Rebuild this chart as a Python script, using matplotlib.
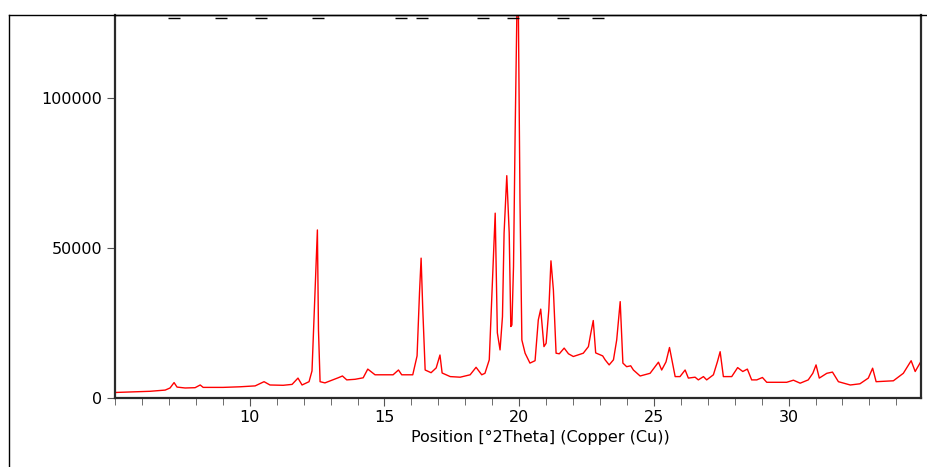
import matplotlib.pyplot as plt
import matplotlib.transforms as mtransforms
from matplotlib.lines import Line2D
from matplotlib.ticker import MultipleLocator

plt.rcParams['font.family'] = ['DejaVu Sans']

# XRD pattern
two_theta = [5.00, 6.30, 6.86, 7.04, 7.19, 7.30, 7.60, 7.97, 8.16, 8.27, 9.01, 9.64,
             10.20, 10.53, 10.75, 11.24, 11.57, 11.79, 11.94, 12.20, 12.31, 12.39,
             12.51, 12.55, 12.61, 12.79, 13.28, 13.44, 13.60, 13.91, 14.21, 14.38,
             14.65, 15.32, 15.52, 15.64, 16.05, 16.21, 16.30, 16.36, 16.42, 16.51,
             16.73, 16.92, 17.06, 17.14, 17.44, 17.81, 18.18, 18.40, 18.61, 18.73,
             18.89, 18.98, 19.11, 19.19, 19.29, 19.38, 19.44, 19.54, 19.63, 19.69,
             19.73, 19.79, 19.85, 19.95, 20.03, 20.10, 20.22, 20.40, 20.59, 20.71,
             20.80, 20.92, 21.00, 21.10, 21.18, 21.27, 21.37, 21.49, 21.67, 21.83,
             22.01, 22.38, 22.57, 22.66, 22.75, 22.84, 23.10, 23.19, 23.34, 23.50,
             23.62, 23.75, 23.85, 23.99, 24.14, 24.24, 24.49, 24.86, 25.17, 25.29,
             25.45, 25.58, 25.79, 25.97, 26.16, 26.28, 26.53, 26.65, 26.84, 26.96,
             27.21, 27.36, 27.46, 27.58, 27.89, 28.11, 28.30, 28.47, 28.63, 28.82,
             29.03, 29.19, 29.93, 30.18, 30.43, 30.73, 30.90, 31.02, 31.14, 31.42,
             31.63, 31.85, 32.29, 32.65, 32.96, 33.12, 33.25, 33.89, 34.26, 34.55,
             34.70, 34.91]
counts = [1800, 2200, 2600, 3300, 5100, 3600, 3300, 3400, 4300, 3500, 3500, 3700,
          4000, 5400, 4300, 4200, 4500, 6600, 4300, 5400, 9000, 28000,
          56000, 22700, 5400, 5000, 6700, 7300, 6000, 6200, 6700, 9600,
          7700, 7700, 9300, 7700, 7700, 14000, 35000, 46600, 30000, 9300,
          8400, 10000, 14300, 8300, 7100, 6900, 7700, 10200, 7700, 8200,
          12700, 32700, 61600, 21700, 16000, 27100, 55000, 74100, 55000, 23800,
          24300, 43800, 88300, 150000, 66000, 19300, 14900, 11600, 12400, 26000,
          29600, 17100, 18200, 29300, 45700, 36000, 14900, 14700, 16600, 14700,
          13800, 14900, 17100, 21600, 25800, 15000, 14000, 12700, 11000, 12700,
          19300, 32100, 11600, 10400, 10700, 9300, 7300, 8200, 11900, 9300,
          12000, 16800, 7100, 7100, 9300, 6600, 6900, 6000, 7100, 6000,
          7700, 12100, 15400, 7100, 7100, 10100, 8800, 9600, 6000, 6000,
          6800, 5200, 5200, 5900, 4900, 6000, 8200, 11000, 6600, 8200,
          8600, 5400, 4300, 4700, 6600, 9900, 5400, 5700, 8200, 12400,
          8800, 12100]

x_ticks = [10, 15, 20, 25, 30]
y_ticks = [0, 50000, 100000]

# small black dashes along the top edge
dash_pos = [7.17, 8.92, 10.40, 12.52, 15.60, 16.41, 18.64, 19.77, 21.63, 22.93]

fig = plt.figure(figsize=(9.28, 4.67), dpi=100)
ax = fig.add_axes([0.124, 0.148, 0.868, 0.820])

ax.plot(two_theta, counts, color='#ff0000', lw=1.0)

ax.set_xlim(5.0, 34.9)
ax.set_ylim(0, 127700)
ax.set_yticks(y_ticks)
ax.set_xticks(x_ticks)
ax.xaxis.set_minor_locator(MultipleLocator(1))
ax.tick_params(axis='both', which='both', direction='out', colors='#555555',
               labelcolor='black', labelsize=11.5)
ax.tick_params(axis='x', which='major', length=6, pad=3)
ax.tick_params(axis='x', which='minor', length=5)
ax.tick_params(axis='y', length=6, pad=3)
ax.set_xlabel('Position [°2Theta] (Copper (Cu))', fontsize=11.5)
ax.xaxis.set_label_coords(0.528, -0.085)

for side in ['left', 'bottom', 'right']:
    ax.spines[side].set_linewidth(1.6)
    ax.spines[side].set_color('#2a2a2a')
ax.spines['top'].set_linewidth(1.0)
ax.spines['top'].set_color('black')

trans = mtransforms.blended_transform_factory(ax.transData, ax.transAxes)
ax.plot(dash_pos, [0.991] * len(dash_pos), transform=trans, ls='none', marker='_',
        ms=8, mew=1.0, color='black', clip_on=False)

# outer frame of the original figure
fig.add_artist(Line2D([0.0097, 0.0097], [0.0, 0.968], transform=fig.transFigure,
                      color='black', lw=1.0))
fig.add_artist(Line2D([0.0097, 1.0], [0.968, 0.968], transform=fig.transFigure,
                      color='black', lw=1.0))

fig.savefig('out.png', dpi=100)
